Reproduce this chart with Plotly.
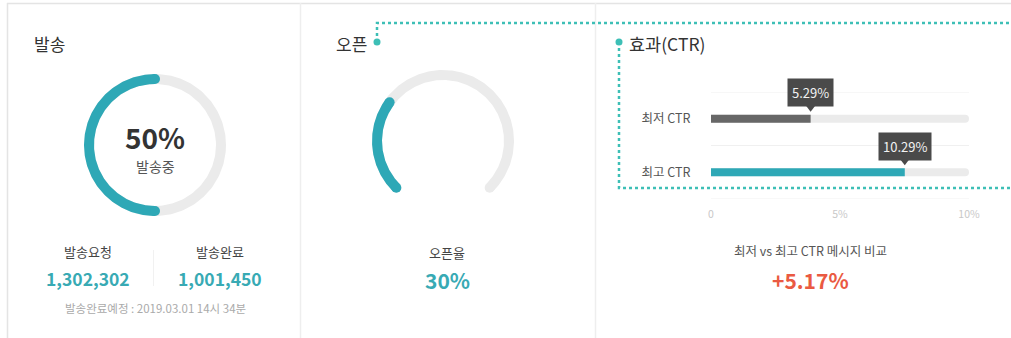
import numpy as np
import plotly.graph_objects as go

# ---- data ----
send_progress = 50            # 발송 진행률 (%)
send_status = "발송중"
send_labels = ["발송요청", "발송완료"]
send_counts = [1302302, 1001450]
send_eta = "발송완료예정 : 2019.03.01 14시 34분"

open_rate = 30                # 오픈율 (%)

ctr_categories = ["최저 CTR", "최고 CTR"]
ctr_values = [5.29, 10.29]
ctr_tick_vals = [0, 5, 10]
ctr_tick_text = ["0", "5%", "10%"]
ctr_compare_label = "최저 vs 최고 CTR 메시지 비교"
ctr_compare_value = "+5.17%"

# ---- styling ----
W, H = 1011, 338
FONT = "Noto Sans CJK KR, Noto Sans, sans-serif"
TEAL = "#2ea8b6"
TEAL_TEXT = "#38aab4"
DOT_TEAL = "#3dbfb6"
TRACK = "#ebebeb"
DARK_BAR = "#676767"
RED = "#ea5a42"
RING_W = 10
RING_R = 66
TRACK_MAX = 13.7   # value that fills the full CTR track

fig = go.Figure()


def add_arc(cx, cy, r, a0, a1, color, caps=True, n=240):
    """Annular band from angle a0 to a1 (degrees, y grows downward)."""
    t = np.radians(np.linspace(a0, a1, n))
    ro, ri = r + RING_W / 2, r - RING_W / 2
    xs = np.concatenate([cx + ro * np.cos(t), cx + ri * np.cos(t[::-1])])
    ys = np.concatenate([cy - ro * np.sin(t), cy - ri * np.sin(t[::-1])])
    fig.add_trace(go.Scatter(x=xs, y=ys, mode="lines", fill="toself",
                             fillcolor=color, line=dict(width=0, color=color),
                             hoverinfo="skip", showlegend=False))
    if caps:
        ends = np.radians([a0, a1])
        fig.add_trace(go.Scatter(x=cx + r * np.cos(ends), y=cy - r * np.sin(ends),
                                 mode="markers", hoverinfo="skip", showlegend=False,
                                 marker=dict(color=color, size=RING_W,
                                             line=dict(width=0))))


# ---- 발송 donut ----
c1 = (155, 145)
add_arc(*c1, RING_R, 0, 360, TRACK, caps=False)
add_arc(*c1, RING_R, 90, 90 + 360 * send_progress / 100, TEAL)

# ---- 오픈 gauge (270° sweep) ----
c2 = (443, 141)
g_start, g_sweep = 225, 270
add_arc(*c2, RING_R, g_start, g_start - g_sweep, TRACK)
add_arc(*c2, RING_R, g_start, g_start - g_sweep * open_rate / 100, TEAL)

# ---- highlight connector (dotted) ----
fig.add_trace(go.Scatter(x=[377, 377, W + 5], y=[42, 23, 23], mode="lines",
                         hoverinfo="skip", showlegend=False,
                         line=dict(color=DOT_TEAL, width=2.5, dash="dot")))
fig.add_trace(go.Scatter(x=[619, 619, W + 5], y=[42, 188, 188], mode="lines",
                         hoverinfo="skip", showlegend=False,
                         line=dict(color=DOT_TEAL, width=2.5, dash="dot")))
fig.add_trace(go.Scatter(x=[377, 619], y=[42, 42], mode="markers",
                         hoverinfo="skip", showlegend=False,
                         marker=dict(color=DOT_TEAL, size=7)))

# ---- CTR bars ----
ypos = list(range(len(ctr_categories)))
fig.add_trace(go.Bar(x=[TRACK_MAX] * len(ypos), y=ypos, orientation="h",
                     xaxis="x2", yaxis="y2", width=0.15, hoverinfo="skip",
                     marker=dict(color=TRACK, cornerradius=4, line=dict(width=0)),
                     showlegend=False))
fig.add_trace(go.Bar(x=ctr_values, y=ypos, orientation="h",
                     xaxis="x2", yaxis="y2", width=0.15,
                     marker=dict(color=[DARK_BAR, TEAL], cornerradius=4,
                                 line=dict(width=0)),
                     showlegend=False))
# tooltip pointers
fig.add_trace(go.Scatter(x=ctr_values, y=[p - 0.215 for p in ypos], mode="markers",
                         xaxis="x2", yaxis="y2", hoverinfo="skip", showlegend=False,
                         marker=dict(symbol="triangle-down", size=9, color="#4a4a4a",
                                     line=dict(width=0))))
# invisible trace for the tick-label axis
fig.add_trace(go.Scatter(x=[0, 10], y=[1.5, 1.5], mode="markers", xaxis="x3",
                         yaxis="y2", marker=dict(opacity=0), hoverinfo="skip",
                         showlegend=False))

ann = []


def txt(x, y, s, size, color, bold=False, xanchor="center"):
    ann.append(dict(x=x, y=y, xref="x", yref="y", text=s, showarrow=False,
                    xanchor=xanchor, yanchor="middle",
                    font=dict(family=FONT, size=size, color=color,
                              weight=700 if bold else 400)))


# titles
txt(32, 43, "발송", 17, "#333", xanchor="left")
txt(334, 43, "오픈", 17, "#333", xanchor="left")
txt(627, 43, "효과(CTR)", 17.5, "#333", xanchor="left")

# 발송 panel text
txt(c1[0], 137, f"{send_progress}%", 28, "#333", bold=True)
txt(c1[0], 166, send_status, 14, "#555")
for cx, lab, val in zip([88, 220], send_labels, send_counts):
    txt(cx, 251, lab, 13, "#444")
    txt(cx, 278, f"{val:,}", 17.5, TEAL_TEXT, bold=True)
txt(c1[0], 308, send_eta, 11.5, "#aaa")

# 오픈 panel text
txt(447, 252, "오픈율", 13, "#444")
txt(447, 280, f"{open_rate}%", 21, TEAL_TEXT, bold=True)

# CTR comparison
txt(810, 250, ctr_compare_label, 12.5, "#555")
txt(810, 280, ctr_compare_value, 21, RED, bold=True)

# tooltips
for v, p in zip(ctr_values, ypos):
    ann.append(dict(x=v, y=p, xref="x2", yref="y2", text=f"{v:.2f}%", showarrow=False,
                    yshift=26, bgcolor="#4a4a4a", borderpad=4,
                    font=dict(family=FONT, size=13, color="#f2f2f2")))

shapes = [
    # panel frame
    dict(type="line", xref="x", yref="y", x0=7, x1=W, y0=3.5, y1=3.5,
         line=dict(color="#e4e4e4", width=1.5), layer="below"),
    dict(type="line", xref="x", yref="y", x0=7.5, x1=7.5, y0=3, y1=H,
         line=dict(color="#e4e4e4", width=1.5), layer="below"),
    dict(type="line", xref="x", yref="y", x0=300.5, x1=300.5, y0=3, y1=H,
         line=dict(color="#eeeeee", width=1.5), layer="below"),
    dict(type="line", xref="x", yref="y", x0=595.5, x1=595.5, y0=3, y1=H,
         line=dict(color="#eeeeee", width=1.5), layer="below"),
    # divider between 발송요청 / 발송완료
    dict(type="line", xref="x", yref="y", x0=153.5, x1=153.5, y0=250, y1=286,
         line=dict(color="#f1f1f1", width=1), layer="below"),
]
# CTR band gridlines
for g in [-0.5, 0.5, 1.5]:
    shapes.append(dict(type="line", xref="x2 domain", yref="y2", x0=0, x1=1,
                       y0=g, y1=g, line=dict(color="#f0f0f0", width=1),
                       layer="below"))

x2_dom = [711 / W, 969 / W]
x3_dom = [713 / W, 967 / W]
fig.update_layout(
    template="none",
    width=W, height=H, margin=dict(l=0, r=0, t=0, b=0, pad=0, autoexpand=False),
    paper_bgcolor="white", plot_bgcolor="rgba(0,0,0,0)",
    font=dict(family=FONT),
    barmode="overlay",
    annotations=ann, shapes=shapes,
    xaxis=dict(range=[0, W], domain=[0, 1], visible=False, fixedrange=True,
               automargin=False),
    yaxis=dict(range=[H, 0], domain=[0, 1], visible=False, fixedrange=True,
               automargin=False),
    xaxis2=dict(domain=x2_dom, range=[0, TRACK_MAX], anchor="y2", automargin=False,
                showgrid=False, zeroline=False, showticklabels=False,
                showline=False, ticks=""),
    xaxis3=dict(domain=x3_dom, range=[0, 10], overlaying="x2", anchor="y2",
                side="bottom", tickvals=ctr_tick_vals, ticktext=ctr_tick_text,
                showgrid=False, zeroline=False, showline=False, automargin=False,
                ticks="outside", ticklen=5, tickcolor="rgba(0,0,0,0)",
                tickfont=dict(family=FONT, size=10.5, color="#c8c8c8")),
    yaxis2=dict(domain=[1 - 199 / H, 1 - 92 / H], range=[1.5, -0.5],
                anchor="x2", tickvals=ypos, ticktext=ctr_categories,
                showgrid=False, zeroline=False, showline=False, automargin=False,
                ticks="outside", ticklen=17, tickcolor="rgba(0,0,0,0)",
                tickfont=dict(family=FONT, size=12.5, color="#555")),
)

fig.write_html("out.html")
